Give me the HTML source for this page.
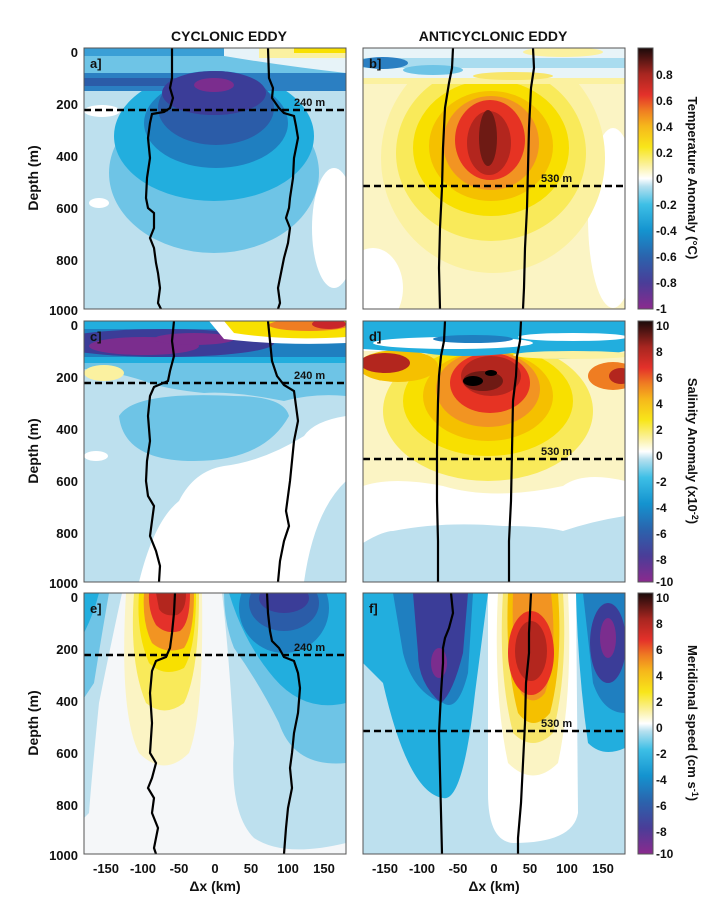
<!DOCTYPE html>
<html><head><meta charset="utf-8"><style>
html,body{margin:0;padding:0;background:#fff}
svg{display:block}
text{font-family:"Liberation Sans",sans-serif;font-weight:bold;fill:#111}
</style></head><body>
<svg width="720" height="905" viewBox="0 0 720 905" xmlns="http://www.w3.org/2000/svg">
<defs>
<clipPath id="cp"><rect x="0" y="0" width="262" height="261"/></clipPath>
<linearGradient id="cb" x1="0" y1="1" x2="0" y2="0">
<stop offset="0" stop-color="#8b2a8e"/><stop offset="0.1" stop-color="#4a3d98"/>
<stop offset="0.2" stop-color="#2b63ad"/><stop offset="0.3" stop-color="#1493cf"/>
<stop offset="0.4" stop-color="#3dbfe6"/><stop offset="0.47" stop-color="#b5e0ef"/>
<stop offset="0.5" stop-color="#ffffff"/><stop offset="0.55" stop-color="#fbf1a0"/>
<stop offset="0.62" stop-color="#f8e61a"/><stop offset="0.7" stop-color="#f6b81b"/>
<stop offset="0.76" stop-color="#ef7d22"/><stop offset="0.82" stop-color="#e4312a"/>
<stop offset="0.9" stop-color="#a82620"/><stop offset="1" stop-color="#1a0a0a"/>
</linearGradient>
</defs>

<text x="229" y="41" font-size="14" text-anchor="middle">CYCLONIC EDDY</text>
<text x="493" y="41" font-size="14" text-anchor="middle">ANTICYCLONIC EDDY</text>

<!-- Panel a -->
<g transform="translate(84,48)">
<g clip-path="url(#cp)">
<rect width="262" height="261" fill="#bde0ee"/>
<ellipse cx="250" cy="180" rx="22" ry="60" fill="#fff"/>
<ellipse cx="18" cy="63" rx="18" ry="6" fill="#fff"/>
<ellipse cx="15" cy="155" rx="10" ry="5" fill="#fff"/>
<rect x="0" y="0" width="262" height="30" fill="#6ec4e6"/>
<rect x="0" y="0" width="150" height="8" fill="#3a9fd6"/>
<path d="M140,0 L262,0 L262,25 Q200,18 140,8 Z" fill="#e7f3f8"/>
<rect x="175" y="0" width="87" height="10" fill="#fbf1a0"/>
<rect x="210" y="0" width="52" height="5" fill="#f8e000"/>
<ellipse cx="130" cy="125" rx="105" ry="80" fill="#6ec4e6"/>
<ellipse cx="130" cy="88" rx="100" ry="65" fill="#22aede"/>
<rect x="0" y="25" width="262" height="18" fill="#2b7fc2"/>
<rect x="0" y="30" width="150" height="8" fill="#2b5ca8"/>
<ellipse cx="132" cy="75" rx="72" ry="45" fill="#1f7fc0"/>
<ellipse cx="132" cy="60" rx="58" ry="37" fill="#2b5ca8"/>
<ellipse cx="130" cy="45" rx="52" ry="22" fill="#3b3d98"/>
<ellipse cx="130" cy="37" rx="20" ry="7" fill="#7b2d8e"/>
<polyline fill="none" stroke="#000" stroke-width="2.2" points="88,0 88,30 86,40 89,50 86,60 80,64 68,66 66,75 64,90 66,110 63,130 62,150 64,160 70,165 70,180 66,190 70,200 72,215 74,225 76,240 74,255 77,261"/>
<polyline fill="none" stroke="#000" stroke-width="2.2" points="184,0 185,30 189,40 188,50 195,60 200,65 210,68 212,78 214,90 210,110 209,130 206,150 205,160 202,170 206,180 204,195 200,210 197,225 194,240 196,255 194,261"/>
</g>
<line x1="0" y1="62" x2="262" y2="62" stroke="#000" stroke-width="2.5" stroke-dasharray="7,4"/>
<text x="210" y="58" font-size="11">240 m</text>
<text x="6" y="20" font-size="13">a]</text>
<rect width="262" height="261" fill="none" stroke="#555" stroke-width="1"/>
</g>

<!-- Panel b -->
<g transform="translate(363,48)">
<g clip-path="url(#cp)">
<rect width="262" height="261" fill="#fbf4c4"/>
<ellipse cx="10" cy="240" rx="30" ry="40" fill="#fff"/>
<ellipse cx="250" cy="170" rx="25" ry="90" fill="#fff"/>
<ellipse cx="130" cy="110" rx="112" ry="115" fill="#fbf1a0"/>
<ellipse cx="128" cy="105" rx="95" ry="88" fill="#f9ea5a"/>
<ellipse cx="128" cy="100" rx="78" ry="68" fill="#f8e000"/>
<ellipse cx="128" cy="98" rx="62" ry="55" fill="#f5c000"/>
<ellipse cx="128" cy="95" rx="48" ry="47" fill="#f29422"/>
<ellipse cx="127" cy="92" rx="35" ry="40" fill="#e63323"/>
<ellipse cx="126" cy="95" rx="22" ry="32" fill="#b3261e"/>
<ellipse cx="125" cy="90" rx="9" ry="28" fill="#6e1a14"/>
<rect x="0" y="0" width="262" height="34" fill="#e8f4f8"/>
<rect x="0" y="30" width="262" height="6" fill="#fbf1a0"/>
<rect x="0" y="10" width="262" height="10" fill="#a9dcef"/>
<ellipse cx="20" cy="15" rx="25" ry="6" fill="#2b7fc2"/>
<ellipse cx="70" cy="22" rx="30" ry="5" fill="#6ec4e6"/>
<ellipse cx="200" cy="4" rx="40" ry="5" fill="#fbf1a0"/>
<ellipse cx="150" cy="28" rx="40" ry="4" fill="#f8e66a"/>
<polyline fill="none" stroke="#000" stroke-width="2.2" points="90,0 89,20 86,35 82,60 80,100 79,140 77,180 76,220 77,261"/>
<polyline fill="none" stroke="#000" stroke-width="2.2" points="170,0 171,20 168,40 166,80 165,120 164,160 162,200 161,240 160,261"/>
</g>
<line x1="0" y1="138" x2="262" y2="138" stroke="#000" stroke-width="2.5" stroke-dasharray="7,4"/>
<text x="178" y="134" font-size="11">530 m</text>
<text x="6" y="20" font-size="13">b]</text>
<rect width="262" height="261" fill="none" stroke="#555" stroke-width="1"/>
</g>

<!-- Panel c -->
<g transform="translate(84,321)">
<g clip-path="url(#cp)">
<rect width="262" height="261" fill="#bde0ee"/>
<path d="M95,180 Q70,200 55,261 L220,261 Q230,190 262,160 L262,95 Q230,100 220,115 Q180,140 140,145 Q110,150 95,180 Z" fill="#fff"/>
<ellipse cx="12" cy="135" rx="12" ry="5" fill="#fff"/>
<path d="M35,95 Q50,70 150,75 Q200,75 205,95 Q180,140 110,140 Q40,140 35,95 Z" fill="#6ec4e6"/>
<rect x="0" y="0" width="262" height="45" fill="#22aede"/>
<path d="M0,42 L262,42 L262,75 Q230,72 200,80 Q150,70 120,72 Q80,68 60,60 Q30,50 0,48 Z" fill="#6ec4e6"/>
<ellipse cx="20" cy="52" rx="20" ry="8" fill="#fbf1a0"/>
<rect x="0" y="8" width="262" height="28" fill="#1f7fc0"/>
<ellipse cx="80" cy="22" rx="110" ry="14" fill="#3b3d98"/>
<ellipse cx="60" cy="25" rx="55" ry="9" fill="#7b2d8e"/>
<ellipse cx="110" cy="18" rx="40" ry="6" fill="#7b2d8e"/>
<path d="M125,0 L262,0 L262,22 Q200,25 140,18 Z" fill="#fff"/>
<path d="M140,0 L262,0 L262,16 Q200,20 150,12 Z" fill="#f8e000"/>
<ellipse cx="225" cy="4" rx="40" ry="6" fill="#ef7d22"/>
<ellipse cx="245" cy="3" rx="17" ry="5" fill="#c9262a"/>
<polyline fill="none" stroke="#000" stroke-width="2.2" points="90,0 88,20 90,35 86,50 84,60 70,66 66,75 64,95 66,120 63,140 62,160 64,175 70,185 68,200 66,215 72,230 76,245 75,261"/>
<polyline fill="none" stroke="#000" stroke-width="2.2" points="184,0 186,20 188,40 193,55 200,64 210,70 212,85 214,100 210,120 208,140 206,160 204,175 202,190 205,205 200,220 196,240 194,261"/>
</g>
<line x1="0" y1="62" x2="262" y2="62" stroke="#000" stroke-width="2.5" stroke-dasharray="7,4"/>
<text x="210" y="58" font-size="11">240 m</text>
<text x="6" y="20" font-size="13">c]</text>
<rect width="262" height="261" fill="none" stroke="#555" stroke-width="1"/>
</g>

<!-- Panel d -->
<g transform="translate(363,321)">
<g clip-path="url(#cp)">
<rect width="262" height="261" fill="#fff"/>
<path d="M0,222 Q20,210 30,210 Q80,200 140,205 Q180,205 200,210 Q230,200 262,195 L262,261 L0,261 Z" fill="#bde0ee"/>
<path d="M0,30 L262,30 L262,160 Q220,150 200,165 Q130,180 80,165 Q30,155 0,165 Z" fill="#fbf4c4"/>
<ellipse cx="125" cy="90" rx="105" ry="70" fill="#f9ea5a"/>
<ellipse cx="125" cy="80" rx="85" ry="55" fill="#f8e000"/>
<ellipse cx="35" cy="45" rx="40" ry="16" fill="#f5c000"/>
<ellipse cx="22" cy="42" rx="25" ry="10" fill="#b3261e"/>
<ellipse cx="250" cy="55" rx="25" ry="14" fill="#ef7d22"/>
<ellipse cx="258" cy="55" rx="12" ry="8" fill="#b3261e"/>
<ellipse cx="125" cy="75" rx="65" ry="45" fill="#f5c000"/>
<ellipse cx="125" cy="68" rx="52" ry="38" fill="#f29422"/>
<ellipse cx="127" cy="62" rx="40" ry="30" fill="#e63323"/>
<ellipse cx="128" cy="55" rx="30" ry="20" fill="#b3261e"/>
<ellipse cx="120" cy="60" rx="20" ry="10" fill="#6e1a14"/>
<ellipse cx="110" cy="60" rx="10" ry="5" fill="#000"/>
<ellipse cx="128" cy="52" rx="6" ry="3" fill="#000"/>
<path d="M0,0 L262,0 L262,30 Q200,45 150,32 Q100,38 60,32 Q30,30 0,28 Z" fill="#22aede"/>
<ellipse cx="90" cy="22" rx="80" ry="6" fill="#fff"/>
<ellipse cx="110" cy="18" rx="40" ry="4" fill="#1f7fc0"/>
<ellipse cx="210" cy="16" rx="55" ry="4" fill="#fff"/>
<ellipse cx="210" cy="34" rx="60" ry="4" fill="#fbf1a0"/>
<polyline fill="none" stroke="#000" stroke-width="2.2" points="82,0 81,20 78,35 76,55 75,80 74,130 74,180 75,220 75,261"/>
<polyline fill="none" stroke="#000" stroke-width="2.2" points="158,0 157,20 154,35 153,55 150,80 149,130 148,180 146,220 146,261"/>
</g>
<line x1="0" y1="138" x2="262" y2="138" stroke="#000" stroke-width="2.5" stroke-dasharray="7,4"/>
<text x="178" y="134" font-size="11">530 m</text>
<text x="6" y="20" font-size="13">d]</text>
<rect width="262" height="261" fill="none" stroke="#555" stroke-width="1"/>
</g>

<!-- Panel e -->
<g transform="translate(84,593)">
<g clip-path="url(#cp)">
<rect width="262" height="261" fill="#f5f7f9"/>
<path d="M0,0 L38,0 Q25,60 15,110 Q8,180 5,220 L0,225 Z" fill="#bde0ee"/>
<path d="M0,0 L25,0 Q18,40 10,90 L0,105 Z" fill="#6ec4e6"/>
<path d="M0,0 L15,0 Q10,20 0,40 Z" fill="#22aede"/>
<path d="M138,0 L262,0 L262,250 Q200,265 170,245 Q145,220 150,150 Q145,60 138,0 Z" fill="#bde0ee"/>
<path d="M140,0 L262,0 L262,170 Q210,175 195,130 Q175,90 150,55 Q140,30 140,0 Z" fill="#6ec4e6"/>
<path d="M145,0 L262,0 L262,110 Q220,120 190,85 Q160,50 145,0 Z" fill="#22aede"/>
<ellipse cx="200" cy="15" rx="45" ry="45" fill="#1f7fc0"/>
<ellipse cx="200" cy="10" rx="35" ry="28" fill="#2b5ca8"/>
<ellipse cx="200" cy="5" rx="25" ry="15" fill="#3b3d98"/>
<path d="M42,0 L118,0 Q120,120 105,160 Q80,185 55,160 Q35,120 42,0 Z" fill="#fbf4c4"/>
<path d="M50,0 L115,0 Q115,80 100,110 Q80,125 62,110 Q45,70 50,0 Z" fill="#f9ea5a"/>
<path d="M55,0 L112,0 Q112,55 100,75 Q80,85 65,70 Q52,40 55,0 Z" fill="#f8e000"/>
<path d="M60,0 L110,0 Q110,40 100,55 Q82,62 68,50 Q58,30 60,0 Z" fill="#f29422"/>
<path d="M65,0 L106,0 Q106,30 96,38 Q82,42 72,32 Q64,18 65,0 Z" fill="#e4312a"/>
<path d="M72,0 L102,0 Q102,18 93,22 Q80,24 75,16 Z" fill="#b3261e"/>
<polyline fill="none" stroke="#000" stroke-width="2.2" points="91,0 90,20 88,40 86,55 82,64 72,68 68,78 66,100 68,130 66,160 72,170 68,185 64,195 70,205 68,220 74,235 70,255 72,261"/>
<polyline fill="none" stroke="#000" stroke-width="2.2" points="183,0 184,20 186,38 188,48 195,55 200,64 210,68 214,80 216,95 214,120 210,140 208,160 206,175 208,195 204,215 202,235 200,261"/>
</g>
<line x1="0" y1="62" x2="262" y2="62" stroke="#000" stroke-width="2.5" stroke-dasharray="7,4"/>
<text x="210" y="58" font-size="11">240 m</text>
<text x="6" y="20" font-size="13">e]</text>
<rect width="262" height="261" fill="none" stroke="#555" stroke-width="1"/>
</g>

<!-- Panel f -->
<g transform="translate(363,593)">
<g clip-path="url(#cp)">
<rect width="262" height="261" fill="#bde0ee"/>
<path d="M125,0 L213,0 L215,220 Q210,250 150,250 Q125,248 125,200 Z" fill="#fff"/>
<path d="M0,0 L125,0 L112,100 Q100,210 80,205 Q45,200 20,90 L0,70 Z" fill="#22aede"/>
<path d="M30,0 L110,0 L105,80 Q95,120 80,110 Q50,100 40,60 Z" fill="#1f7fc0"/>
<path d="M50,0 L105,0 L100,60 Q90,100 78,110 Q55,90 55,60 Z" fill="#3b3d98"/>
<ellipse cx="76" cy="70" rx="8" ry="15" fill="#7b2d8e"/>
<path d="M213,0 L262,0 L262,155 Q240,165 225,150 Q215,80 213,0 Z" fill="#22aede"/>
<path d="M220,0 L262,0 L262,120 Q240,120 230,90 Z" fill="#1f7fc0"/>
<ellipse cx="245" cy="50" rx="18" ry="40" fill="#3b3d98"/>
<ellipse cx="245" cy="45" rx="8" ry="20" fill="#7b2d8e"/>
<path d="M135,0 L205,0 Q210,100 195,170 Q170,195 145,170 Q130,100 135,0 Z" fill="#fbf4c4"/>
<path d="M140,0 L200,0 Q205,80 190,140 Q170,160 150,140 Q135,80 140,0 Z" fill="#f8e66a"/>
<path d="M145,0 L195,0 Q200,70 187,120 Q170,140 155,120 Q142,70 145,0 Z" fill="#f5c000"/>
<path d="M150,0 L188,0 Q195,60 182,100 Q170,115 158,100 Q148,60 150,0 Z" fill="#f29422"/>
<ellipse cx="168" cy="60" rx="23" ry="42" fill="#e63323"/>
<ellipse cx="168" cy="58" rx="16" ry="30" fill="#b3261e"/>
<polyline fill="none" stroke="#000" stroke-width="2.2" points="88,0 90,20 86,35 82,45 80,55 80,70 78,100 76,140 77,180 78,220 79,261"/>
<polyline fill="none" stroke="#000" stroke-width="2.2" points="168,0 167,20 166,40 166,60 163,90 162,130 160,170 158,210 155,245 155,261"/>
</g>
<line x1="0" y1="138" x2="262" y2="138" stroke="#000" stroke-width="2.5" stroke-dasharray="7,4"/>
<text x="178" y="134" font-size="11">530 m</text>
<text x="6" y="20" font-size="13">f]</text>
<rect width="262" height="261" fill="none" stroke="#555" stroke-width="1"/>
</g>

<!-- Y axis labels -->
<g font-size="13" text-anchor="end">
<text x="78" y="57">0</text><text x="78" y="109">200</text><text x="78" y="161">400</text><text x="78" y="213">600</text><text x="78" y="265">800</text><text x="78" y="315">1000</text>
<text x="78" y="330">0</text><text x="78" y="382">200</text><text x="78" y="434">400</text><text x="78" y="486">600</text><text x="78" y="538">800</text><text x="78" y="588">1000</text>
<text x="78" y="602">0</text><text x="78" y="654">200</text><text x="78" y="706">400</text><text x="78" y="758">600</text><text x="78" y="810">800</text><text x="78" y="860">1000</text>
</g>
<g font-size="14">
<text transform="translate(38,178) rotate(-90)" text-anchor="middle">Depth (m)</text>
<text transform="translate(38,451) rotate(-90)" text-anchor="middle">Depth (m)</text>
<text transform="translate(38,723) rotate(-90)" text-anchor="middle">Depth (m)</text>
</g>
<g font-size="13" text-anchor="middle">
<text x="106" y="873">-150</text><text x="143" y="873">-100</text><text x="179" y="873">-50</text><text x="215" y="873">0</text><text x="251" y="873">50</text><text x="288" y="873">100</text><text x="324" y="873">150</text>
<text x="385" y="873">-150</text><text x="422" y="873">-100</text><text x="458" y="873">-50</text><text x="494" y="873">0</text><text x="530" y="873">50</text><text x="567" y="873">100</text><text x="603" y="873">150</text>
</g>
<text x="215" y="891" font-size="14" text-anchor="middle">Δx (km)</text>
<text x="494" y="891" font-size="14" text-anchor="middle">Δx (km)</text>

<rect x="638" y="48" width="15" height="261" fill="url(#cb)" stroke="#555"/>
<rect x="638" y="321" width="15" height="261" fill="url(#cb)" stroke="#555"/>
<rect x="638" y="593" width="15" height="261" fill="url(#cb)" stroke="#555"/>
<g font-size="12">
<text x="656" y="79">0.8</text><text x="656" y="105">0.6</text><text x="656" y="131">0.4</text><text x="656" y="157">0.2</text><text x="656" y="183">0</text><text x="656" y="209">-0.2</text><text x="656" y="235">-0.4</text><text x="656" y="261">-0.6</text><text x="656" y="287">-0.8</text><text x="656" y="313">-1</text>
<text x="656" y="330">10</text><text x="656" y="356">8</text><text x="656" y="382">6</text><text x="656" y="408">4</text><text x="656" y="434">2</text><text x="656" y="460">0</text><text x="656" y="486">-2</text><text x="656" y="512">-4</text><text x="656" y="538">-6</text><text x="656" y="564">-8</text><text x="656" y="586">-10</text>
<text x="656" y="602">10</text><text x="656" y="628">8</text><text x="656" y="654">6</text><text x="656" y="680">4</text><text x="656" y="706">2</text><text x="656" y="732">0</text><text x="656" y="758">-2</text><text x="656" y="784">-4</text><text x="656" y="810">-6</text><text x="656" y="836">-8</text><text x="656" y="858">-10</text>
</g>
<g font-size="13">
<text transform="translate(688,178) rotate(90)" text-anchor="middle">Temperature Anomaly (°C)</text>
<text transform="translate(688,451) rotate(90)" text-anchor="middle">Salinity Anomaly (x10<tspan dy="-4" font-size="9">-2</tspan><tspan dy="4">)</tspan></text>
<text transform="translate(688,723) rotate(90)" text-anchor="middle">Meridional speed (cm s<tspan dy="-4" font-size="9">-1</tspan><tspan dy="4">)</tspan></text>
</g>
</svg>
</body></html>
